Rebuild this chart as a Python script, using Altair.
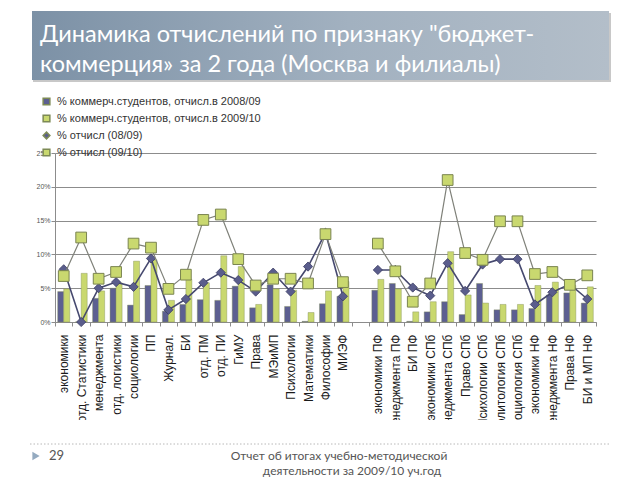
import altair as alt
import pandas as pd

# ---------------- data ----------------
categories = [
    "экономики", "отд. Статистики", "менеджмента", "отд. логистики", "социологии",
    "ПП", "Журнал.", "БИ", "отд. ПМ", "отд. ПИ", "ГиМУ", "Права", "МЭиМП",
    "Психологии", "Математики", "Философии", "МИЭФ", " ",
    "экономики ПФ", "менеджмента ПФ", "БИ ПФ", "экономики СПб", "менеджмента СПб",
    "Право СПб", "Психологии СПб", "Политология СПб", "Социология СПб",
    "экономики НФ", "менеджмента НФ", "Права НФ", "БИ и МП НФ",
]
comm_0809 = [4.5, 0.0, 3.5, 5.0, 2.5, 5.4, 1.6, 2.6, 3.3, 3.2, 5.3, 2.1, 5.5,
             2.3, 0.1, 2.7, 3.8, None,
             4.7, 5.7, 0.1, 1.5, 3.0, 1.1, 5.7, 1.8, 1.8, 2.0, 4.0, 4.3, 2.8]
comm_0910 = [4.9, 7.2, 4.6, 5.8, 9.0, 9.2, 3.2, 6.3, 5.8, 9.8, 8.2, 2.6, 4.9,
             4.7, 1.4, 4.6, 6.0, None,
             6.3, 4.9, 1.5, 3.0, 10.4, 4.0, 2.8, 2.6, 2.6, 5.4, 5.9, 5.4, 5.2]
drop_0809 = [7.8, 0.0, 5.0, 5.9, 5.2, 9.4, 1.8, 3.4, 5.8, 7.3, 6.2, 4.5, 7.3,
             4.5, 8.2, 13.2, 3.8, None,
             7.7, 7.7, 5.1, 3.9, 8.7, 4.6, 8.5, 9.3, 9.3, 2.6, 4.4, 5.6, 3.4]
drop_0910 = [6.8, 12.5, 6.4, 7.4, 11.6, 11.0, 4.9, 7.0, 15.1, 15.9, 9.3, 5.4, 6.4,
             6.4, 5.7, 13.0, 5.9, None,
             11.6, 7.5, 3.0, 5.7, 21.0, 10.2, 9.2, 14.9, 14.9, 7.1, 7.4, 5.5, 6.9]

S1 = "% коммерч.студентов,  отчисл.в 2008/09"
S2 = "% коммерч.студентов,  отчисл.в 2009/10"
S3 = "% отчисл (08/09)"
S4 = "% отчисл (09/10)"
series_names = [S1, S2, S3, S4]
series_colors = ["#5c5f91", "#c9d86f", "#5a5d8c", "#c9d86f"]
series_shapes = ["square", "square", "diamond", "square"]
y_ticks = [0, 5, 10, 15, 20, 25]

TITLE = "Динамика отчислений по признаку \"бюджет-\nкоммерция» за 2 года (Москва и филиалы)"
FOOTER_NUM = "29"
FOOTER_1 = "Отчет об итогах учебно-методической"
FOOTER_2 = "деятельности за 2009/10 уч.год"

rows = []
for i, cat in enumerate(categories):
    if comm_0809[i] is None:
        continue
    grp = "Москва" if i < 17 else "Филиалы"
    for s, arr in zip(series_names, [comm_0809, comm_0910, drop_0809, drop_0910]):
        rows.append({"cat": cat, "grp": grp, "series": s, "value": arr[i]})
df = pd.DataFrame(rows)

# ---------------- encodings ----------------
FONT = "Liberation Sans"
GRID = "#8c8c8c"

x_enc = alt.X(
    "cat:N",
    sort=categories,
    scale=alt.Scale(domain=categories, paddingInner=0, paddingOuter=0),
    axis=alt.Axis(title=None, labelAngle=270, labelFont=FONT, labelFontSize=12,
                  labelColor="#1a1a1a", tickBand="extent", tickSize=4,
                  tickColor=GRID, domainColor=GRID, labelPadding=8, grid=False,
                  zindex=0),
)
y_enc = alt.Y(
    "value:Q",
    scale=alt.Scale(domain=[0, 25], nice=False),
    axis=alt.Axis(title=None, values=y_ticks, labelExpr="datum.value + '%'",
                  grid=True, gridColor=GRID, gridWidth=1, domainColor=GRID,
                  tickColor=GRID, tickSize=4, labelFontSize=7, labelColor="#555555",
                  labelFont=FONT, labelPadding=1, zindex=0),
)
legend = alt.Legend(title=None, orient="none", legendX=-14, legendY=-57,
                    labelFont=FONT, labelFontSize=11, labelColor="#333333",
                    symbolSize=45, rowPadding=4, labelOffset=5, padding=0,
                    labelLimit=400)
color_enc = alt.Color("series:N",
                      scale=alt.Scale(domain=series_names, range=series_colors),
                      legend=legend)
shape_enc = alt.Shape("series:N",
                      scale=alt.Scale(domain=series_names, range=series_shapes),
                      legend=legend)

base = alt.Chart(df)

bars = base.transform_filter(
    alt.FieldOneOfPredicate(field="series", oneOf=[S1, S2])
).mark_bar(stroke="#7d8a55", strokeWidth=0.4).encode(
    x=x_enc, y=y_enc, color=color_enc,
    xOffset=alt.XOffset("series:N", sort=[S1, S2],
                        scale=alt.Scale(domain=[S1, S2], paddingOuter=0.45, paddingInner=0)),
)

line3 = base.transform_filter(alt.datum.series == S3).mark_line(
    color="#46496f", strokeWidth=1.6).encode(x=x_enc, y=y_enc, detail="grp:N")
pts3 = base.transform_filter(alt.datum.series == S3).mark_point(
    filled=True, size=85, stroke="#3c3e63", strokeWidth=0.8, opacity=1).encode(
    x=x_enc, y=y_enc, color=color_enc, shape=shape_enc)
line4 = base.transform_filter(alt.datum.series == S4).mark_line(
    color="#7f8179", strokeWidth=1.2).encode(x=x_enc, y=y_enc, detail="grp:N")
pts4 = base.transform_filter(alt.datum.series == S4).mark_point(
    filled=True, size=115, stroke="#7a8450", strokeWidth=1, opacity=1).encode(
    x=x_enc, y=y_enc, color=color_enc, shape=shape_enc)

# ---------------- slide decorations ----------------
one = pd.DataFrame({"k": [0]})
banner_fill = alt.LinearGradient(
    gradient="linear", x1=0, x2=1, y1=0, y2=0,
    stops=[alt.GradientStop(color="#7c91a6", offset=0),
           alt.GradientStop(color="#a2b1c0", offset=0.55),
           alt.GradientStop(color="#b3bec9", offset=1)],
)
shadow = alt.Chart(one).mark_rect(color="#c8c8c8").encode(
    x=alt.value(-22), x2=alt.value(556), y=alt.value(-140), y2=alt.value(-71))
banner = alt.Chart(one).mark_rect(color=banner_fill).encode(
    x=alt.value(-23), x2=alt.value(554), y=alt.value(-142), y2=alt.value(-73))
title = alt.Chart(pd.DataFrame({"t": [TITLE]})).mark_text(
    align="left", baseline="alphabetic", lineBreak="\n", lineHeight=30,
    font="Lato", fontSize=23.5, color="white").encode(
    x=alt.value(-15), y=alt.value(-111), text="t:N")

# white slide area below the chart that clips long category labels
cover = alt.Chart(one).mark_rect(color="white").encode(
    x=alt.value(-40), x2=alt.value(570), y=alt.value(267), y2=alt.value(330))
rule = alt.Chart(one).mark_rule(color="#b8b8b8", strokeDash=[1.5, 2]).encode(
    x=alt.value(-25), x2=alt.value(555), y=alt.value(291))
tri = alt.Chart(one).mark_point(shape="triangle-right", filled=True, color="#94aac0",
                                size=70, opacity=1).encode(x=alt.value(-19), y=alt.value(303))
num = alt.Chart(pd.DataFrame({"t": [FOOTER_NUM]})).mark_text(
    align="left", baseline="middle", font="Lato", fontSize=13, color="#555555").encode(
    x=alt.value(-6), y=alt.value(303), text="t:N")
foot1 = alt.Chart(pd.DataFrame({"t": [FOOTER_1]})).mark_text(
    align="center", baseline="middle", font="Lato", fontSize=12, color="#555555").encode(
    x=alt.value(284), y=alt.value(303), text="t:N")
foot2 = alt.Chart(pd.DataFrame({"t": [FOOTER_2]})).mark_text(
    align="center", baseline="middle", font="Lato", fontSize=12, color="#555555").encode(
    x=alt.value(297), y=alt.value(318), text="t:N")

chart = alt.layer(
    bars, line3, pts3, line4, pts4,
    shadow, banner, title, cover, rule, tri, num, foot1, foot2,
).properties(
    width=541, height=169,
    autosize=alt.AutoSizeParams(type="none"),
    padding={"left": 47, "top": 145, "right": 36, "bottom": 158},
    background="white",
).configure_view(stroke=None)

chart.save("out.html", embed_options={"renderer": "svg", "actions": False})
